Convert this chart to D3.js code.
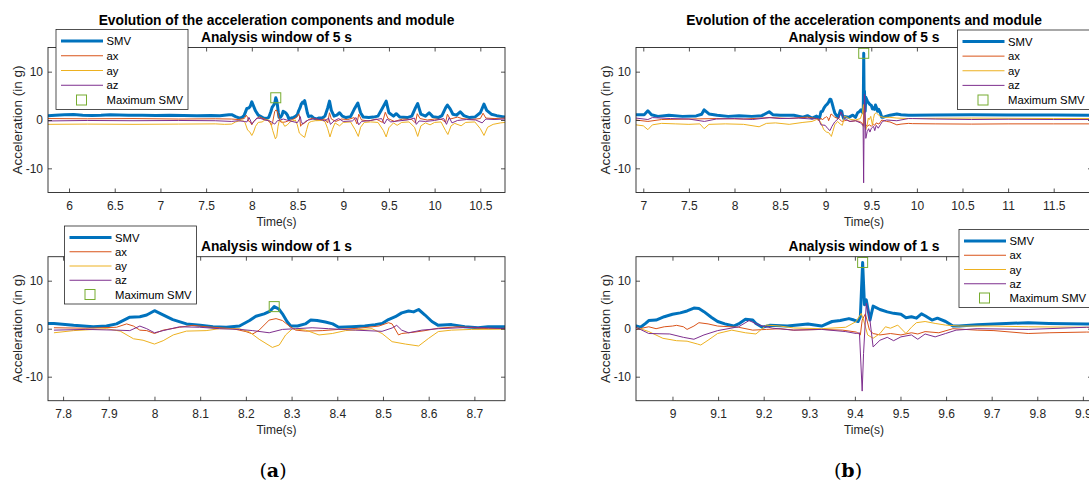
<!DOCTYPE html>
<html>
<head>
<meta charset="utf-8">
<script src="https://cdn.jsdelivr.net/npm/d3@7"></script>
<style>
  body { margin: 0; background: #fff; }
  text { font-family: "Liberation Sans", Arial, sans-serif; fill: #262626; }
</style>
</head>
<body>
<div id="chart"></div>
<script>
// ---- data, [time in s, acceleration in g] ----
// (a) walking
var smvA = [[5.77,0.9],[5.85,1.0],[5.95,1.1],[6.05,1.15],[6.15,1.0],[6.25,0.95],[6.35,1.0],[6.45,1.1],[6.55,1.05],[6.65,1.0],[6.8,1.0],[6.95,0.95],[7.1,1.0],[7.25,0.95],[7.4,0.9],[7.55,0.95],[7.65,0.9],[7.7,1.0],[7.75,1.1],
  [7.78,1.1],[7.823,0.7],[7.866,0.4],[7.895,0.55],[7.917,1.0],[7.946,2.4],[7.968,2.5],[7.983,2.85],[8.0,3.75],[8.012,3.2],[8.04,1.9],[8.07,1.0],[8.1,0.7],[8.128,0.4],[8.157,0.3],[8.186,0.55],[8.208,1.7],[8.222,2.6],[8.24,3.1],[8.252,3.6],[8.262,4.6],[8.272,4.1],[8.28,3.1],[8.29,1.5],[8.298,0.55],[8.313,0.55],[8.33,1.0],[8.342,1.8],[8.356,1.7],[8.374,1.4],[8.39,1.0],[8.403,0.3],[8.432,0.4],[8.46,0.55],[8.483,0.85],[8.498,1.1],[8.512,1.9],[8.527,2.5],[8.541,3.3],[8.556,3.7],[8.567,3.5],[8.578,4.0],[8.592,2.85],[8.607,1.5],[8.621,0.7],[8.65,0.85],[8.679,0.4],[8.708,0.2],[8.73,0.4],[8.77,0.4],
  [8.80,0.8],[8.83,2.5],[8.85,3.9],[8.87,2.0],[8.90,0.8],[8.93,1.0],[8.96,1.5],[8.99,0.8],[9.03,0.5],[9.08,0.7],[9.12,2.2],[9.16,3.5],[9.19,1.5],[9.22,0.6],[9.28,0.5],[9.33,0.6],[9.38,0.8],[9.43,2.5],[9.47,3.9],[9.50,1.5],[9.55,0.8],[9.58,1.3],[9.62,0.6],[9.70,0.5],[9.75,0.8],[9.79,2.5],[9.815,3.4],[9.85,1.2],[9.90,0.8],[9.94,1.5],[9.98,0.7],[10.04,0.5],[10.08,0.9],[10.12,2.5],[10.14,3.1],[10.17,2.3],[10.20,1.2],[10.24,1.0],[10.28,1.7],[10.32,0.9],[10.38,0.5],[10.44,0.6],[10.50,1.5],[10.54,3.3],[10.57,2.0],[10.62,1.2],[10.68,0.9],[10.74,0.7],[10.77,0.6]];
var axA = [[5.77,0.3],[6.2,0.25],[6.7,0.3],[7.2,0.2],[7.6,0.25],[7.78,0.2],
  [7.85,0.1],[7.917,0.3],[7.939,1.0],[7.954,0.55],[7.968,-0.3],[7.983,-0.4],[8.0,-1.0],[8.019,-0.3],[8.055,0.3],[8.084,0.7],[8.113,0.4],[8.171,0.0],[8.2,-0.6],[8.215,-1.1],[8.229,-0.3],[8.251,1.8],[8.266,2.1],[8.28,1.7],[8.295,0.55],[8.309,-0.3],[8.331,-0.5],[8.367,-0.4],[8.403,-0.15],[8.447,0.1],[8.491,0.55],[8.512,1.25],[8.52,1.0],[8.534,-1.3],[8.541,-1.0],[8.57,-0.7],[8.592,-0.4],[8.621,0.1],[8.665,0.4],[8.731,0.0],[8.77,0.1],
  [8.80,0.2],[8.83,-0.6],[8.85,1.5],[8.87,0.2],[8.92,-0.3],[8.98,0.2],[9.05,0.1],[9.12,0.5],[9.15,-0.8],[9.17,1.2],[9.2,0.0],[9.28,-0.2],[9.36,0.2],[9.43,-0.5],[9.46,1.6],[9.49,0.3],[9.56,-0.3],[9.65,0.2],[9.75,0.1],[9.79,-0.6],[9.81,1.3],[9.84,0.3],[9.92,0.0],[10.0,0.2],[10.08,0.1],[10.12,-0.5],[10.14,1.2],[10.17,0.2],[10.25,0.6],[10.3,0.3],[10.4,0.1],[10.5,0.3],[10.53,1.4],[10.56,0.4],[10.65,0.3],[10.77,0.4]];
var ayA = [[5.77,-0.9],[6.2,-0.85],[6.7,-0.9],[7.2,-0.85],[7.6,-0.8],[7.7,-0.9],[7.78,-0.85],
  [7.823,-0.4],[7.895,0.0],[7.925,-0.5],[7.954,-2.1],[7.975,-2.4],[8.0,-3.2],[8.019,-2.5],[8.041,-1.3],[8.07,-0.5],[8.113,-0.4],[8.142,0.0],[8.186,0.0],[8.208,-0.7],[8.229,-2.2],[8.258,-3.9],[8.273,-3.4],[8.287,-1.3],[8.302,0.0],[8.331,-0.3],[8.36,-1.3],[8.389,-1.0],[8.418,-0.4],[8.476,0.0],[8.498,-1.0],[8.52,-2.7],[8.549,-3.2],[8.578,-3.6],[8.6,-2.0],[8.621,-0.6],[8.65,-0.3],[8.694,-0.15],[8.77,-0.1],
  [8.80,-0.3],[8.83,-1.8],[8.855,-3.5],[8.88,-2.0],[8.91,-0.6],[8.96,-1.2],[9.0,-0.5],[9.08,-0.4],[9.13,-2.0],[9.165,-3.4],[9.19,-1.5],[9.23,-0.5],[9.3,-0.4],[9.38,-0.5],[9.44,-2.2],[9.47,-3.5],[9.5,-1.6],[9.55,-0.6],[9.59,-1.1],[9.64,-0.5],[9.72,-0.4],[9.78,-1.5],[9.815,-3.4],[9.85,-1.2],[9.9,-0.6],[9.95,-1.0],[10.0,-0.5],[10.07,-0.4],[10.12,-2.2],[10.145,-3.0],[10.18,-1.2],[10.22,-0.7],[10.29,-1.2],[10.34,-0.5],[10.44,-0.4],[10.5,-1.8],[10.54,-3.2],[10.58,-1.5],[10.64,-0.9],[10.72,-0.6],[10.77,-0.5]];
var azA = [[5.77,-0.2],[6.2,-0.1],[6.7,-0.15],[7.2,-0.1],[7.6,-0.15],[7.78,-0.3],
  [7.85,-0.15],[7.917,-0.3],[7.946,-0.4],[7.968,0.55],[7.983,0.0],[8.0,-0.85],[8.019,-0.4],[8.055,0.4],[8.099,0.3],[8.142,0.0],[8.186,-0.15],[8.215,-0.4],[8.251,-0.85],[8.28,-0.15],[8.309,0.0],[8.345,0.2],[8.381,0.0],[8.44,-0.3],[8.498,-0.55],[8.52,0.15],[8.53,0.7],[8.541,-0.3],[8.556,-0.85],[8.585,-0.3],[8.621,0.0],[8.694,0.3],[8.77,0.0],
  [8.80,-0.2],[8.84,0.4],[8.86,-0.9],[8.9,-0.2],[8.95,0.3],[9.0,-0.3],[9.1,-0.2],[9.14,0.5],[9.17,-1.0],[9.2,-0.3],[9.3,-0.1],[9.42,0.3],[9.45,-0.8],[9.48,0.2],[9.52,-0.4],[9.6,-0.2],[9.7,0.0],[9.78,0.4],[9.8,-0.9],[9.83,-0.2],[9.9,-0.3],[10.0,-0.1],[10.1,0.3],[10.13,-0.9],[10.16,0.5],[10.19,-0.6],[10.25,-0.1],[10.35,0.1],[10.45,0.0],[10.52,-0.6],[10.56,0.2],[10.65,0.1],[10.77,0.2]];

// (b) fall
var smvB = [[6.92,1.1],[7.01,1.1],[7.05,1.9],[7.09,1.1],[7.16,0.75],[7.28,1.0],[7.43,0.75],[7.58,0.85],[7.64,1.2],[7.667,2.1],[7.72,1.25],[7.81,1.0],[7.93,0.75],[8.05,0.9],[8.19,0.75],[8.3,0.9],[8.38,1.7],[8.42,1.1],[8.5,1.0],[8.65,1.0],[8.75,0.6],[8.8,0.9],[8.85,0.4],[8.9,0.8],
  [8.92,0.55],[8.93,0.3],[8.941,1.1],[8.948,1.7],[8.964,1.8],[8.982,2.5],[9.0,3.0],[9.017,3.3],[9.032,3.7],[9.047,4.3],[9.058,4.2],[9.069,3.55],[9.085,2.4],[9.099,1.5],[9.115,1.0],[9.134,0.55],[9.145,1.0],[9.16,1.95],[9.176,1.8],[9.183,1.1],[9.197,0.3],[9.213,0.7],[9.252,0.55],[9.297,1.0],[9.327,0.55],[9.35,1.5],[9.368,1.7],[9.387,2.1],[9.398,1.8],[9.407,1.5],[9.412,2.5],[9.417,13.8],[9.421,5.0],[9.425,6.0],[9.433,1.8],[9.44,4.7],[9.455,4.0],[9.471,3.5],[9.485,3.2],[9.501,3.0],[9.512,2.3],[9.524,2.5],[9.535,2.2],[9.546,3.1],[9.554,2.7],[9.569,1.8],[9.581,2.2],[9.599,1.5],[9.615,0.55],[9.629,0.55],[9.668,0.8],[9.705,1.0],[9.78,1.25],[9.826,1.1],[9.908,1.0],[9.95,1.0],
  [10.2,1.05],[10.6,1.1],[11.0,1.05],[11.5,1.05],[11.92,1.0]];
var axB = [[6.92,0.0],[7.05,-0.3],[7.2,0.1],[7.5,0.2],[7.8,0.3],[8.1,0.2],[8.4,0.5],[8.6,0.3],[8.8,0.6],[8.9,0.3],
  [8.92,-0.15],[8.948,0.4],[8.964,0.0],[8.982,0.4],[9.0,0.55],[9.009,0.7],[9.024,0.4],[9.032,-0.15],[9.047,0.55],[9.058,1.25],[9.078,1.0],[9.099,0.55],[9.145,0.3],[9.176,-0.3],[9.206,-0.15],[9.236,0.0],[9.266,-0.3],[9.327,-0.15],[9.373,-0.3],[9.403,-0.7],[9.412,-1.3],[9.416,1.8],[9.423,3.1],[9.432,-0.3],[9.44,-1.0],[9.455,-1.3],[9.478,-1.0],[9.501,-1.3],[9.524,-0.85],[9.538,-1.1],[9.554,-0.6],[9.584,-0.85],[9.615,0.0],[9.668,-0.3],[9.705,-0.4],[9.78,-1.0],[9.826,-0.85],[9.908,-0.7],[9.95,-0.75],
  [10.2,-0.8],[10.6,-0.85],[11.0,-0.8],[11.5,-0.8],[11.92,-0.8]];
var ayB = [[6.92,-1.0],[7.0,-1.2],[7.05,-2.0],[7.1,-1.0],[7.2,-0.7],[7.35,-0.8],[7.5,-0.9],[7.62,-0.8],[7.667,-1.8],[7.72,-0.9],[7.9,-0.8],[8.1,-0.9],[8.27,-1.4],[8.35,-0.7],[8.45,-0.6],[8.6,-0.9],[8.75,-0.5],[8.85,-0.3],[8.9,0.1],
  [8.92,0.3],[8.948,-0.6],[8.979,-2.0],[9.009,-2.5],[9.032,-2.6],[9.055,-3.2],[9.062,-3.4],[9.078,-2.4],[9.099,-1.0],[9.13,-0.3],[9.16,-0.85],[9.183,-1.1],[9.206,0.75],[9.236,0.55],[9.266,0.15],[9.327,0.0],[9.38,0.3],[9.403,1.5],[9.414,3.2],[9.419,1.8],[9.428,-1.3],[9.44,-2.0],[9.455,-1.0],[9.467,0.4],[9.478,0.1],[9.494,0.75],[9.512,-1.0],[9.524,0.3],[9.535,1.25],[9.554,1.5],[9.576,1.1],[9.599,0.75],[9.629,0.55],[9.705,0.55],[9.78,0.4],[9.908,0.3],[9.95,0.3],
  [10.2,0.35],[10.6,0.4],[11.0,0.35],[11.5,0.3],[11.92,0.3]];
var azB = [[6.92,0.4],[7.05,0.1],[7.1,0.5],[7.3,0.3],[7.5,0.2],[7.67,-0.3],[7.8,0.2],[8.0,0.3],[8.2,0.1],[8.38,0.5],[8.5,0.3],[8.7,0.4],[8.85,0.2],[8.9,0.3],
  [8.92,0.3],[8.948,-1.0],[8.994,-1.1],[9.024,-1.8],[9.047,-2.2],[9.069,-1.3],[9.099,-0.4],[9.145,0.4],[9.168,1.7],[9.19,0.75],[9.22,0.1],[9.266,-0.3],[9.327,-0.15],[9.38,-0.6],[9.403,-1.0],[9.41,-0.85],[9.416,-13.0],[9.419,-5.2],[9.425,5.3],[9.433,1.8],[9.44,-3.8],[9.455,-2.4],[9.471,-1.8],[9.485,-2.5],[9.501,-1.7],[9.524,-1.3],[9.538,-2.2],[9.554,-1.1],[9.576,-1.7],[9.599,-1.0],[9.622,-0.3],[9.668,0.0],[9.78,-0.15],[9.908,0.3],[9.95,0.3],
  [10.2,0.2],[10.6,0.1],[11.0,0.15],[11.5,0.1],[11.92,0.1]];

// axis windows and ticks
var domainA5 = [5.77, 10.77];
var domainA1 = [7.767, 8.767];
var domainB5 = [6.92, 11.92];
var domainB1 = [8.92, 9.92];
var ticksA5 = [6, 6.5, 7, 7.5, 8, 8.5, 9, 9.5, 10, 10.5];
var ticksA1 = [7.8, 7.9, 8, 8.1, 8.2, 8.3, 8.4, 8.5, 8.6, 8.7];
var ticksB5 = [7, 7.5, 8, 8.5, 9, 9.5, 10, 10.5, 11, 11.5];
var ticksB1 = [9, 9.1, 9.2, 9.3, 9.4, 9.5, 9.6, 9.7, 9.8, 9.9];
var yDomain = [-15, 15];
var yTicks = [-10, 0, 10];

var seriesNames = ["SMV", "ax", "ay", "az"];
var markerName = "Maximum SMV";
var mainTitle = "Evolution of the acceleration components and module";
var subTitles = ["Analysis window of 5 s", "Analysis window of 1 s"];
var panelLetters = ["a", "b"];

var colors = { SMV: "#0072BD", ax: "#D95319", ay: "#EDB120", az: "#7E2F8E", max: "#77AC30" };

// ---- layout ----
var svgWidth = 1089, svgHeight = 495;
var svg = d3.select("#chart").append("svg")
  .attr("width", svgWidth).attr("height", svgHeight)
  .style("display", "block");
svg.append("rect").attr("width", svgWidth).attr("height", svgHeight).attr("fill", "#fff");

var panels = [
  { id: "a5", left: 48, right: 505, top: 47.5, bottom: 192.5, domain: domainA5, ticks: ticksA5,
    data: [smvA, axA, ayA, azA], sub: subTitles[0], main: true, legend: { x: 56, y: 29.5, w: 132, h: 80 } },
  { id: "a1", left: 48, right: 505, top: 256.7, bottom: 400.7, domain: domainA1, ticks: ticksA1,
    data: [smvA, axA, ayA, azA], sub: subTitles[1], main: false, legend: { x: 64.5, y: 226, w: 132, h: 78 } },
  { id: "b5", left: 636, right: 1092, top: 47.5, bottom: 192.5, domain: domainB5, ticks: ticksB5,
    data: [smvB, axB, ayB, azB], sub: subTitles[0], main: true, legend: { x: 957.5, y: 30, w: 133, h: 79.5 } },
  { id: "b1", left: 636, right: 1092, top: 256.7, bottom: 400.7, domain: domainB1, ticks: ticksB1,
    data: [smvB, axB, ayB, azB], sub: subTitles[1], main: false, legend: { x: 959, y: 229.5, w: 133, h: 78 } }
];

panels.forEach(function(p) {
  var w = p.right - p.left, h = p.bottom - p.top;
  var x = d3.scaleLinear().domain(p.domain).range([0, w]);
  var y = d3.scaleLinear().domain(yDomain).range([h, 0]);
  var g = svg.append("g").attr("transform", `translate(${p.left}, ${p.top})`);

  g.append("clipPath").attr("id", "clip-" + p.id)
    .append("rect").attr("width", w).attr("height", h);

  var line = d3.line().x(d => x(d[0])).y(d => y(d[1]));
  var plot = g.append("g").attr("clip-path", `url(#clip-${p.id})`);

  seriesNames.forEach(function(name, i) {
    var pts = p.data[i].filter(d => d[0] >= p.domain[0] - 0.05 && d[0] <= p.domain[1] + 0.05);
    plot.append("path")
      .datum(pts)
      .attr("fill", "none")
      .attr("stroke", colors[name])
      .attr("stroke-width", name === "SMV" ? 3 : 1)
      .attr("stroke-linejoin", "round")
      .attr("d", line);
  });

  // maximum SMV marker
  var smvMax = d3.greatest(p.data[0], d => d[1]);
  g.append("rect")
    .attr("x", x(smvMax[0]) - 5).attr("y", y(smvMax[1]) - 5)
    .attr("width", 10).attr("height", 10)
    .attr("fill", "none").attr("stroke", colors.max).attr("stroke-width", 1);

  // axes, ticks pointing inward on all four sides
  var fmt = d => String(d);
  var bottomAxis = d3.axisBottom(x).tickValues(p.ticks).tickFormat(fmt).tickSize(-4).tickSizeOuter(0).tickPadding(8.5);
  var topAxis = d3.axisTop(x).tickValues(p.ticks).tickFormat("").tickSize(-4).tickSizeOuter(0);
  var leftAxis = d3.axisLeft(y).tickValues(yTicks).tickFormat(fmt).tickSize(-4).tickSizeOuter(0).tickPadding(5);
  var rightAxis = d3.axisRight(y).tickValues(yTicks).tickFormat("").tickSize(-4).tickSizeOuter(0);

  [g.append("g").attr("transform", `translate(0, ${h})`).call(bottomAxis),
   g.append("g").call(topAxis),
   g.append("g").call(leftAxis),
   g.append("g").attr("transform", `translate(${w}, 0)`).call(rightAxis)]
  .forEach(function(ax) {
    ax.select(".domain").remove();
    ax.selectAll("line").attr("stroke", "#262626").attr("stroke-width", 0.8);
    ax.selectAll("text").attr("fill", "#262626").style("font-size", "12px").attr("font-family", null);
  });

  g.append("rect").attr("width", w).attr("height", h)
    .attr("fill", "none").attr("stroke", "#262626").attr("stroke-width", 0.9);

  // axis labels
  g.append("text")
    .attr("x", w / 2).attr("y", h + 33)
    .attr("text-anchor", "middle")
    .style("font-size", "12px")
    .text("Time(s)");

  g.append("text")
    .attr("transform", `translate(-31, ${h / 2}) rotate(-90)`)
    .attr("text-anchor", "middle")
    .attr("dominant-baseline", "central")
    .style("font-size", "13.5px")
    .text("Acceleration (in g)");

  // titles
  if (p.main) {
    g.append("text")
      .attr("x", w / 2).attr("y", -23)
      .attr("text-anchor", "middle")
      .style("font-size", "13.8px").style("font-weight", "bold").style("fill", "#000")
      .text(mainTitle);
  }
  g.append("text")
    .attr("x", w / 2).attr("y", -6)
    .attr("text-anchor", "middle")
    .style("font-size", "13.8px").style("font-weight", "bold").style("fill", "#000")
    .text(p.sub);

  // legend
  var lg = svg.append("g").attr("transform", `translate(${p.legend.x}, ${p.legend.y})`);
  lg.append("rect").attr("width", p.legend.w).attr("height", p.legend.h)
    .attr("fill", "#fff").attr("stroke", "#262626").attr("stroke-width", 0.8);
  var rowY = d3.scaleLinear().domain([0, 4]).range([11.5, p.legend.h - 9.5]);
  seriesNames.forEach(function(name, i) {
    lg.append("line")
      .attr("x1", 5).attr("x2", 47).attr("y1", rowY(i)).attr("y2", rowY(i))
      .attr("stroke", colors[name]).attr("stroke-width", name === "SMV" ? 3 : 1);
    lg.append("text")
      .attr("x", 50.5).attr("y", rowY(i))
      .attr("dominant-baseline", "central")
      .style("font-size", "11.3px").style("fill", "#000")
      .text(name);
  });
  lg.append("rect")
    .attr("x", 25.5 - 5).attr("y", rowY(4) - 5).attr("width", 10).attr("height", 10)
    .attr("fill", "none").attr("stroke", colors.max).attr("stroke-width", 1);
  lg.append("text")
    .attr("x", 50.5).attr("y", rowY(4))
    .attr("dominant-baseline", "central")
    .style("font-size", "11.3px").style("fill", "#000")
    .text(markerName);
});

// panel letters (a), (b)
var letterX = [273, 848];
panelLetters.forEach(function(l, i) {
  var t = svg.append("text")
    .attr("x", letterX[i]).attr("y", 477)
    .attr("text-anchor", "middle")
    .style("font-family", "'DejaVu Serif', 'Liberation Serif', serif")
    .style("font-size", "19px").style("fill", "#000");
  t.append("tspan").text("(");
  t.append("tspan").style("font-weight", "bold").text(l);
  t.append("tspan").text(")");
});
</script>
</body>
</html>
